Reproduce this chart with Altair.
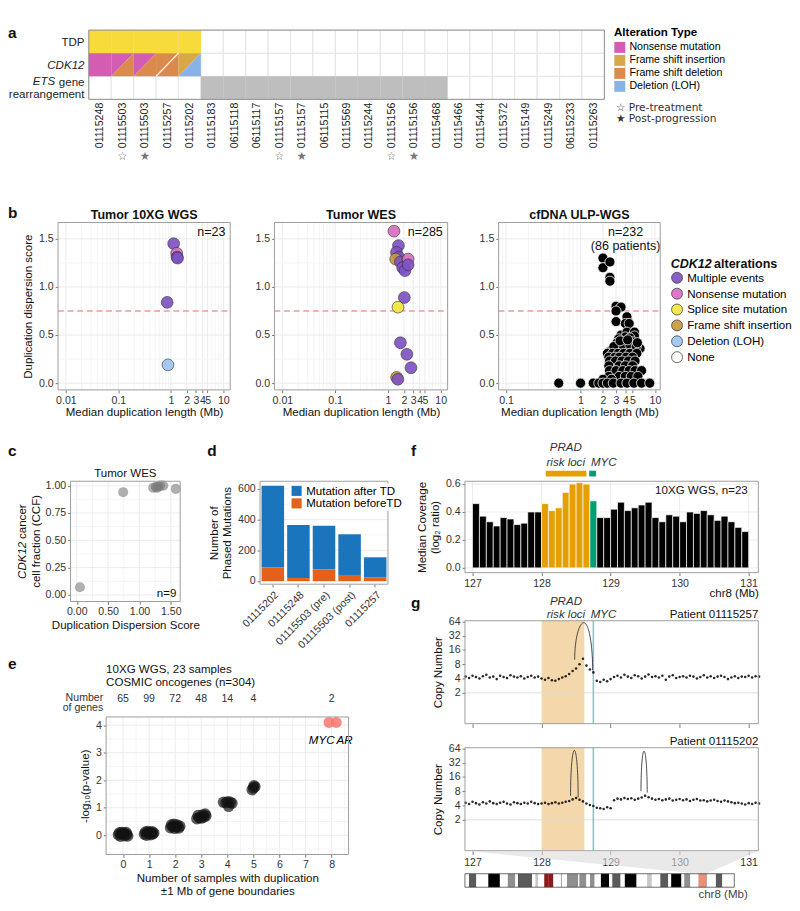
import math
import altair as alt
import pandas as pd

FONT = "Liberation Sans"

# ---------------- panel a data ----------------
a_samples = ["01115248", "01115503", "01115503", "01115257", "01115202", "01115183", "06115118",
             "06115117", "01115157", "01115157", "06115115", "01115569", "01115244", "01115156",
             "01115156", "01115468", "01115466", "01115444", "01115372", "01115149", "01115249",
             "06115233", "01115263"]
a_timepoint = ["", "pre", "post", "", "", "", "", "", "pre", "post", "", "", "", "pre", "post",
               "", "", "", "", "", "", "", ""]
a_tdp = [1, 1, 1, 1, 1] + [0] * 18
a_ets = [0] * 5 + [1] * 11 + [0] * 7
a_cdk12 = [["Nonsense mutation"],
           ["Nonsense mutation", "Frame shift deletion"],
           ["Nonsense mutation", "Frame shift deletion"],
           ["Frame shift deletion", "Frame shift deletion"],
           ["Frame shift insertion", "Deletion (LOH)"]] + [[] for _ in range(18)]
a_types = ["Nonsense mutation", "Frame shift insertion", "Frame shift deletion", "Deletion (LOH)",
           "TDP", "ETS gene rearrangement"]
a_colors = ["#D45DB3", "#D6A84A", "#DC8A4B", "#89B3E6", "#F6DB3A", "#BEBEBE"]

# ---------------- panel b data ----------------
b_types = ["Multiple events", "Nonsense mutation", "Splice site mutation", "Frame shift insertion",
           "Deletion (LOH)", "None"]
b_colors = ["#7F52C4", "#D86EC2", "#F2E640", "#C9983F", "#9FC5EE", "#FFFFFF"]

b1_len = [1.13, 0.85, 1.29, 1.31, 1.34, 0.88]
b1_score = [1.45, 0.84, 1.35, 1.31, 1.30, 0.19]
b1_alt = ["Multiple events", "Multiple events", "Nonsense mutation", "Multiple events",
          "Multiple events", "Deletion (LOH)"]

b2_len = [1.30, 1.58, 1.45, 1.60, 1.40, 1.72, 2.41, 1.90, 2.10, 2.41, 2.04, 1.55, 1.72, 2.28, 2.73, 1.46, 1.54]
b2_score = [1.58, 1.43, 1.36, 1.31, 1.29, 1.26, 1.29, 1.20, 1.17, 1.23, 0.89, 0.79, 0.42, 0.30, 0.16, 0.06, 0.04]
b2_alt = ["Nonsense mutation", "Multiple events", "Multiple events", "Multiple events",
          "Frame shift insertion", "Multiple events", "Nonsense mutation", "Multiple events",
          "Multiple events", "Multiple events", "Multiple events", "Splice site mutation",
          "Multiple events", "Multiple events", "Multiple events", "Frame shift insertion",
          "Multiple events"]

b3_len = [2.0, 2.0, 2.48, 2.48, 2.48, 3.0, 3.5, 3.0, 3.0, 4.2, 4.0, 4.5,
          3.5, 4.2, 5.3, 5.3, 4.0, 4.6, 3.25, 4.0, 5.0, 3.1, 4.0, 3.1, 6.3, 2.5, 3.6, 4.6, 5.6,
          2.8, 3.4, 4.3, 5.8,
          2.3, 2.7, 3.2, 3.8, 4.6, 5.7,
          2.4, 2.9, 3.3, 4.1, 5.0,
          2.45, 2.95, 3.6, 4.4, 5.4,
          2.4, 3.3, 4.0, 5.0,
          2.45, 3.0, 3.7, 4.5, 5.4, 6.6,
          2.4, 3.3, 4.0, 4.8, 5.9,
          2.0, 2.6,
          0.51, 1.0, 1.48, 1.76, 2.0, 2.3, 2.75, 3.5, 4.2, 5.2, 6.6, 8.5]
b3_score = [1.30, 1.20, 1.26, 1.10, 1.06, 0.80, 0.79, 0.75, 0.64, 0.69, 0.62, 0.62,
            0.50, 0.53, 0.53, 0.49, 0.48, 0.47, 0.46, 0.43, 0.43, 0.42, 0.36, 0.36, 0.36, 0.33, 0.39, 0.40, 0.38,
            0.38, 0.44, 0.45, 0.42,
            0.31, 0.31, 0.31, 0.31, 0.31, 0.31,
            0.27, 0.27, 0.27, 0.27, 0.27,
            0.23, 0.23, 0.23, 0.23, 0.23,
            0.18, 0.18, 0.18, 0.18,
            0.13, 0.13, 0.13, 0.13, 0.13, 0.13,
            0.07, 0.07, 0.07, 0.07, 0.07,
            0.04, 0.04,
            0.0, 0.0, 0.0, 0.0, 0.0, 0.0, 0.0, 0.0, 0.0, 0.0, 0.0, 0.0]

# ---------------- panel c data ----------------
c_score = [0.05, 0.74, 1.22, 1.26, 1.30, 1.33, 1.38, 1.28, 1.58]
c_ccf = [0.07, 0.94, 0.98, 0.99, 0.99, 1.00, 1.00, 0.98, 0.97]

# ---------------- panel d data ----------------
d_samples = ["01115202", "01115248", "01115503 (pre)", "01115503 (post)", "01115257"]
d_before = [90, 20, 75, 40, 25]
d_after = [530, 345, 285, 265, 130]

# ---------------- panel e data ----------------
e_x = [-0.18, -0.10, -0.02, 0.06, 0.14, -0.14, -0.05, 0.04, 0.12, 0.18,
       0.82, 0.90, 0.98, 1.06, 1.14, 0.86, 0.95, 1.03, 1.12, 1.18,
       1.82, 1.90, 1.98, 2.06, 2.14, 1.86, 1.96, 2.08, 2.18,
       2.83, 2.92, 3.00, 3.10, 3.18, 2.88, 3.05, 3.15,
       3.85, 3.95, 4.05, 4.12, 4.18, 4.02,
       4.95, 5.02, 5.06, 5.00]
e_y = [0.02, -0.04, 0.05, -0.02, 0.03, 0.09, 0.10, 0.08, 0.10, -0.03,
       0.04, 0.00, 0.06, 0.02, 0.05, 0.12, 0.14, 0.11, 0.13, 0.08,
       0.27, 0.32, 0.25, 0.30, 0.26, 0.38, 0.40, 0.37, 0.33,
       0.60, 0.64, 0.62, 0.66, 0.70, 0.72, 0.74, 0.77,
       1.20, 1.18, 1.05, 1.20, 1.16, 1.22,
       1.65, 1.80, 1.76, 1.72]
e_hit_x = [7.9, 8.18]
e_hit_y = [4.10, 4.10]
e_hit_gene = ["MYC", "AR"]
e_count_x = [0, 1, 2, 3, 4, 5, 8]
e_counts = ["65", "99", "72", "48", "14", "4", "2"]

# ---------------- panel f data ----------------
f_start = [127.0, 127.1, 127.2, 127.3, 127.4, 127.5, 127.6, 127.7, 127.8, 127.9,
           128.0, 128.1, 128.2, 128.3, 128.4, 128.5, 128.6, 128.7,
           128.8, 128.9, 129.0, 129.1, 129.2, 129.3, 129.4, 129.5, 129.6, 129.7, 129.8,
           129.9, 130.0, 130.1, 130.2, 130.3, 130.4, 130.5, 130.6, 130.7, 130.8, 130.9]
f_cov = [0.46, 0.37, 0.33, 0.30, 0.36, 0.35, 0.31, 0.32, 0.40, 0.40,
         0.46, 0.41, 0.43, 0.54, 0.60, 0.61, 0.60, 0.48,
         0.36, 0.36, 0.42, 0.47, 0.41, 0.43, 0.45, 0.47, 0.36, 0.33, 0.38,
         0.37, 0.33, 0.40, 0.39, 0.41, 0.38, 0.34, 0.37, 0.33, 0.29, 0.26]
f_region = ["other"] * 10 + ["PRAD"] * 7 + ["MYC"] + ["other"] * 22

# ---------------- panel g data ----------------
g_pos = [round(126.9 + 0.05 * i, 2) for i in range(86)]
g1_cn = [4.4, 4.1, 4.6, 4.3, 4.0, 4.5, 4.8, 4.2, 4.4, 3.9, 4.6, 4.3, 4.1, 4.7, 4.4, 4.2, 4.5, 4.0, 4.3, 4.6, 4.2, 4.4,
         4.0, 3.8, 4.1, 3.7, 3.6, 3.9, 4.2, 4.5,
         5.0, 5.8, 6.5, 8.0, 10.5,
         7.5, 6.2, 5.4,
         3.6, 3.4, 3.8, 3.5, 3.9,
         4.3, 4.6, 4.2, 4.8, 4.4, 4.1, 4.7, 4.5, 4.0, 4.4, 4.9, 4.3, 4.5, 4.2, 4.6, 3.8, 4.4, 4.7, 4.1, 4.3,
         4.5, 4.2, 4.6, 4.4, 4.0, 4.3, 4.7, 4.2, 4.5, 4.1, 4.4, 4.6, 4.3, 3.9, 4.2, 4.5, 4.1, 4.4, 4.3, 4.6,
         4.2, 4.5, 4.4]
g2_cn = [4.6, 4.3, 4.8, 4.5, 4.2, 4.7, 4.4, 4.9, 4.5, 4.3, 4.6, 4.8, 4.4, 4.2, 4.7, 4.5, 4.3, 4.6, 4.4, 4.8, 4.5, 4.3,
         4.4, 4.6, 4.3, 4.5, 4.7, 4.4, 4.6, 4.8,
         5.0, 5.4, 5.8, 5.3, 4.9,
         4.4, 4.1, 3.9,
         3.6, 3.5, 3.4, 3.7, 3.5,
         5.2, 5.6, 5.4, 5.8, 5.5, 5.7, 5.3, 5.6, 5.9, 6.4, 6.0, 5.6, 5.3, 5.5, 5.2, 5.4, 5.6, 5.1, 5.3, 5.5,
         5.2, 5.4, 5.0, 5.3, 5.5, 5.1, 5.2, 4.9, 5.1, 5.3, 5.0, 4.8, 5.1, 4.9, 4.7, 4.5, 4.6, 4.4, 4.2, 4.5,
         4.3, 4.6, 4.4]
# duplication junction loops: start, end, CN at start, CN at end, loop apex
g1_loops = [(128.48, 128.74, 10.0, 6.0, 60.0)]
g2_loops = [(128.42, 128.53, 6.4, 6.0, 58.0), (129.44, 129.53, 8.0, 7.5, 56.0)]

# chr8 cytobands (Mb)
ideo_start = [0, 2.2, 6.2, 12.7, 19.0, 23.3, 27.4, 28.8, 36.5, 38.3, 39.7, 43.1, 45.6, 48.1, 52.2, 52.6, 55.5,
              61.6, 62.2, 66.0, 68.0, 70.5, 73.9, 78.3, 80.1, 84.6, 86.9, 93.3, 99.0, 101.6, 106.2, 110.5,
              112.1, 117.7, 119.2, 122.5, 127.3, 131.5, 136.4, 139.9]
ideo_end = ideo_start[1:] + [146.4]
ideo_stain = ["gneg", "gpos75", "gneg", "gpos100", "gneg", "gpos50", "gneg", "gpos75", "gneg", "gpos25",
              "gneg", "acen", "acen", "gneg", "gpos75", "gneg", "gpos50", "gneg", "gpos50", "gneg",
              "gpos50", "gneg", "gpos100", "gneg", "gpos75", "gneg", "gpos100", "gneg", "gpos25", "gneg",
              "gpos75", "gneg", "gpos100", "gneg", "gpos50", "gneg", "gpos50", "gneg", "gpos75", "gneg"]

# =====================================================================
# One canvas; every panel is a layer with its own scales whose pixel ranges place it.
W, H = 784, 895


def P(v):
    return v - 8


one = pd.DataFrame({"v": [0]})
GRID = "#EBEBEB"
MINOR = "#F5F5F5"
BORDER = "#9A9A9A"


def txt(x, y, text, **kw):
    kw.setdefault("fontSize", 12)
    kw.setdefault("color", "#111")
    return alt.Chart(one).mark_text(**kw).encode(x=alt.value(P(x)), y=alt.value(P(y)), text=alt.value(text))


def letter(ch, x, y):
    return txt(x, y, ch, fontWeight="bold", fontSize=16, align="left", baseline="top")


def frame(l, t, r, b, color=BORDER):
    return alt.Chart(one).mark_rect(fill="transparent", stroke=color, strokeWidth=1).encode(
        x=alt.value(P(l)), x2=alt.value(P(r)), y=alt.value(P(t)), y2=alt.value(P(b)))


def vgrid(field, values, X, top, bottom, color=GRID):
    return alt.Chart(pd.DataFrame({field: values})).mark_rule(color=color, strokeWidth=1).encode(
        x=X, y=alt.value(P(top)), y2=alt.value(P(bottom)))


def hgrid(field, values, Y, left, right, color=GRID):
    return alt.Chart(pd.DataFrame({field: values})).mark_rule(color=color, strokeWidth=1).encode(
        y=Y, x=alt.value(P(left)), x2=alt.value(P(right)))


def xax(bottom, **kw):
    kw.setdefault("grid", False)
    return alt.Axis(orient="bottom", offset=P(bottom) - H, **kw)


def yax(left, **kw):
    kw.setdefault("grid", False)
    return alt.Axis(orient="left", offset=-P(left), **kw)


panels = []

# ---------------- panel a ----------------
AL, AR, AT, AB = 92, 628, 6, 78
n = len(a_samples)
grid_df = pd.DataFrame([{"x": i, "x2": i + 1, "y": r, "y2": r + 1} for i in range(n) for r in range(3)])
cells, tris, diag = [], [], []
for i in range(n):
    if a_tdp[i]:
        cells.append({"x": i, "x2": i + 1, "y": 2, "y2": 3, "type": "TDP"})
    if a_ets[i]:
        cells.append({"x": i, "x2": i + 1, "y": 0, "y2": 1, "type": "ETS gene rearrangement"})
    ev = a_cdk12[i]
    if len(ev) == 1:
        cells.append({"x": i, "x2": i + 1, "y": 1, "y2": 2, "type": ev[0]})
    elif len(ev) == 2:
        up, lo = ev
        tris += [{"id": f"{i}u", "x": i, "y": 1, "y2": 2, "type": up},
                 {"id": f"{i}u", "x": i + 1, "y": 2, "y2": 2, "type": up},
                 {"id": f"{i}l", "x": i, "y": 1, "y2": 1, "type": lo},
                 {"id": f"{i}l", "x": i + 1, "y": 1, "y2": 2, "type": lo}]
        if up == lo:
            diag.append({"x": i, "x2": i + 1, "y": 1, "y2": 2})
stars_df = pd.DataFrame([{"x": i + 0.5, "y": -2.45, "s": "\u2606" if t == "pre" else "\u2605"}
                         for i, t in enumerate(a_timepoint) if t])
a_label_expr = "[" + ",".join("'%s'" % s for s in a_samples) + "][floor(datum.value)]"
X_a = alt.X("x:Q", scale=alt.Scale(domain=[0, n], range=[P(AL), P(AR)], nice=False, zero=False),
            axis=xax(AB, values=[i + 0.5 for i in range(n)], labelExpr=a_label_expr, labelAngle=-90,
                     ticks=False, domain=False, title=None, labelFontSize=11, labelPadding=3,
                     labelColor="#222"))
Y_a = alt.Y("y:Q", stack=None, scale=alt.Scale(domain=[0, 3], range=[P(AB), P(AT)], nice=False, zero=False),
            axis=yax(AL, values=[0.78, 1.5, 2.5],
                     labelExpr="datum.value < 1 ? ['gene', 'rearrangement'] : (datum.value < 2 ? 'CDK12' : 'TDP')",
                     labelFontStyle={"condition": {"test": "datum.value > 1 && datum.value < 2", "value": "italic"},
                                     "value": "normal"},
                     ticks=False, domain=False, title=None, labelFontSize=12, labelColor="#222",
                     labelLineHeight=13, labelPadding=5))
a_color = alt.Color("type:N", scale=alt.Scale(domain=a_types, range=a_colors),
                    legend=alt.Legend(title="Alteration Type", values=a_types[:4], symbolType="square",
                                      symbolSize=130, titleFontSize=12, labelFontSize=11, orient="none",
                                      legendX=P(638), legendY=P(3), symbolStrokeWidth=0, rowPadding=1.5,
                                      titlePadding=3))
panel_a = alt.layer(
    alt.Chart(grid_df).mark_rect(fill="white", stroke="#E4E4E4", strokeWidth=1).encode(
        x=X_a, x2="x2", y=Y_a, y2="y2"),
    alt.Chart(pd.DataFrame(cells)).mark_rect().encode(x=X_a, x2="x2", y=Y_a, y2="y2", color=a_color),
    alt.Chart(pd.DataFrame(tris)).mark_area(orient="vertical").encode(
        x=X_a, y=Y_a, y2="y2", color=a_color, detail="id:N"),
    alt.Chart(pd.DataFrame(diag)).mark_rule(color="white", strokeWidth=1.2).encode(x=X_a, x2="x2", y=Y_a, y2="y2"),
    alt.Chart(stars_df).mark_text(font="DejaVu Sans", fontSize=12, color="#777").encode(x=X_a, y=Y_a, text="s:N"),
    frame(AL, AT, AR, AB, "#8C8C8C"),
    txt(57, 59.3, "ETS", fontStyle="italic", align="right", baseline="middle", color="#222"),
    txt(640, 87, "\u2606 Pre-treatment", align="left", fontSize=11, font="DejaVu Sans", color="#333"),
    txt(640, 99, "\u2605 Post-progression", align="left", fontSize=11, font="DejaVu Sans", color="#333"),
    letter("a", 8, 1),
)
panels.append(panel_a)

# ---------------- panel b ----------------
BT, BB = 206, 380


def b_panel(L, R, lens, scores, alts, title, dom, vals, ntext, ytitle, black=False):
    df = pd.DataFrame({"len": lens, "score": scores, "alt": alts})
    X = alt.X("len:Q", scale=alt.Scale(type="log", domain=dom, range=[P(L), P(R)], nice=False),
              axis=xax(BB, values=vals, format="~g", labelOverlap=False,
                       title="Median duplication length (Mb)", titlePadding=2))
    Y = alt.Y("score:Q", scale=alt.Scale(domain=[-0.07, 1.67], range=[P(BB), P(BT)], nice=False, zero=False),
              axis=yax(L, values=[0, 0.5, 1.0, 1.5], format=".1f",
                       title="Duplication dispersion score" if ytitle else None))
    minor = [v for v in [0.02, 0.03, 0.04, 0.05, 0.06, 0.07, 0.08, 0.09, 0.2, 0.3, 0.4, 0.5, 0.6, 0.7,
                         0.8, 0.9, 6, 7, 8, 9] if dom[0] < v < dom[1]]
    major = [v for v in [0.01, 0.1, 1, 2, 3, 4, 5, 10] if dom[0] < v < dom[1]]
    layers = [vgrid("len", minor, X, BT, BB, MINOR), vgrid("len", major, X, BT, BB),
              hgrid("score", [0.25, 0.75, 1.25], Y, L, R, MINOR), hgrid("score", [0, 0.5, 1.0, 1.5], Y, L, R),
              alt.Chart(pd.DataFrame({"score": [0.75]})).mark_rule(
                  color="#F29A9A", strokeDash=[6, 4], strokeWidth=1.4).encode(
                  y=Y, x=alt.value(P(L)), x2=alt.value(P(R)))]
    if black:
        leg = alt.Legend(title=None, orient="none", legendX=P(697), legendY=P(257),
                         symbolType="circle", symbolSize=130, symbolStrokeColor="#333",
                         symbolStrokeWidth=0.8, labelFontSize=12, rowPadding=1.5)
        layers.append(alt.Chart(df).transform_filter("false").mark_circle(
            size=150, opacity=0.92, stroke="#333", strokeWidth=0.7).encode(
            x=X, y=Y, color=alt.Color("alt:N", scale=alt.Scale(domain=b_types, range=b_colors), legend=leg)))
        layers.append(alt.Chart(df).mark_circle(size=110, color="black", opacity=1, stroke="white",
                                                strokeWidth=0.8).encode(x=X, y=Y))
        layers.append(txt(R - 36, 210, ntext, align="center", baseline="top", fontSize=13, lineHeight=15))
        layers.append(txt(697, 249, "CDK12", fontStyle="italic", fontWeight="bold", fontSize=13,
                          align="left", baseline="middle"))
        layers.append(txt(742, 249, "alterations", fontWeight="bold", fontSize=13,
                          align="left", baseline="middle"))
    else:
        layers.append(alt.Chart(df).mark_circle(size=150, opacity=0.92, stroke="#333", strokeWidth=0.7).encode(
            x=X, y=Y, color=alt.Color("alt:N", scale=alt.Scale(domain=b_types, range=b_colors), legend=None)))
        layers.append(txt(R - 5, 210, ntext, align="right", baseline="top", fontSize=13))
    layers.append(frame(L, BT, R, BB))
    layers.append(txt((L + R) / 2, 198, title, fontWeight="bold", fontSize=13, baseline="middle"))
    return alt.layer(*layers)


panels.append(b_panel(60, 239, b1_len, b1_score, b1_alt, "Tumor 10XG WGS", [10 ** -2.15, 10 ** 1.13],
                      [0.01, 0.1, 1, 2, 3, 4, 5, 10], "n=23", True))
panels.append(b_panel(285, 465, b2_len, b2_score, b2_alt, "Tumor WES", [10 ** -2.15, 10 ** 1.13],
                      [0.01, 0.1, 1, 2, 3, 4, 5, 10], "n=285", False))
panels.append(b_panel(518, 686, b3_len, b3_score, ["None"] * len(b3_len), "cfDNA ULP-WGS",
                      [10 ** -1.1, 10 ** 1.07], [0.1, 1, 2, 3, 4, 5, 10], ["n=232", "(86 patients)"],
                      False, black=True))
panels.append(letter("b", 8, 188))

# ---------------- panel c ----------------
CL, CR, CT, CB = 73, 187, 475, 600
Xc = alt.X("dds:Q", scale=alt.Scale(domain=[-0.1, 1.65], range=[P(CL), P(CR)], nice=False, zero=False),
           axis=xax(CB, values=[0, 0.5, 1.0, 1.5], format=".2f", title="Duplication Dispersion Score",
                    titlePadding=3))
Yc = alt.Y("ccf:Q", scale=alt.Scale(domain=[-0.06, 1.04], range=[P(CB), P(CT)], nice=False, zero=False),
           axis=yax(CL, values=[0, 0.25, 0.5, 0.75, 1.0], format=".2f", title=None))
cmid = (CT + CB) / 2
panels.append(alt.layer(
    vgrid("dds", [0.25, 0.75, 1.25], Xc, CT, CB, MINOR), vgrid("dds", [0, 0.5, 1.0, 1.5], Xc, CT, CB),
    hgrid("ccf", [0.125, 0.375, 0.625, 0.875], Yc, CL, CR, MINOR),
    hgrid("ccf", [0, 0.25, 0.5, 0.75, 1.0], Yc, CL, CR),
    alt.Chart(pd.DataFrame({"dds": c_score, "ccf": c_ccf})).mark_circle(
        size=110, color="#7A7A7A", opacity=0.6).encode(x=Xc, y=Yc),
    frame(CL, CT, CR, CB),
    txt(183, 591, "n=9", align="right", baseline="middle"),
    txt(130, 467, "Tumor WES", baseline="middle"),
    txt(23, cmid + 39, "CDK12", fontStyle="italic", angle=270, align="left", baseline="middle"),
    txt(23, cmid + 39 - 41.5, "cancer", angle=270, align="left", baseline="middle"),
    txt(37, cmid, "cell fraction (CCF)", angle=270, align="center", baseline="middle"),
    letter("c", 8, 436),
))

# ---------------- panel d ----------------
DL, DR, DT, DB = 270, 403, 475, 582
d_rows = []
for s, b, a in zip(d_samples, d_before, d_after):
    d_rows.append({"sample": s, "kind": "Mutation beforeTD", "n": b, "o": 0})
    d_rows.append({"sample": s, "kind": "Mutation after TD", "n": a, "o": 1})
Xd = alt.X("sample:N", sort=d_samples,
           scale=alt.Scale(range=[P(DL), P(DR)], paddingInner=0.12, paddingOuter=0.06),
           axis=xax(DB, labelAngle=-45, title=None, labelFontSize=11))
d_yscale = alt.Scale(domain=[-20, 650], range=[P(DB), P(DT)], nice=False, zero=False)
d_yaxis = yax(DL, values=[0, 200, 400, 600], title=["Number of", "Phased Mutations"])
Yd = alt.Y("n:Q", stack="zero", scale=d_yscale, axis=d_yaxis)
Yd_grid = alt.Y("n:Q", stack=None, scale=d_yscale, axis=d_yaxis)
panels.append(alt.layer(
    hgrid("n", [100, 300, 500], Yd_grid, DL, DR, MINOR), hgrid("n", [0, 200, 400, 600], Yd_grid, DL, DR),
    alt.Chart(pd.DataFrame(d_rows)).mark_bar().encode(
        x=Xd, y=Yd,
        color=alt.Color("kind:N", scale=alt.Scale(domain=["Mutation after TD", "Mutation beforeTD"],
                                                  range=["#1B75BC", "#E5601B"]),
                        legend=alt.Legend(title=None, orient="none", legendX=P(300), legendY=P(477),
                                          symbolType="square", symbolSize=110, labelFontSize=12,
                                          padding=2, fillColor="white", rowPadding=1)),
        order=alt.Order("o:Q")),
    frame(DL, DT, DR, DB),
    letter("d", 215, 436),
))

# ---------------- panel e ----------------
EL, ER, ET, EB = 110, 362, 720, 863
Xe = alt.X("x:Q", scale=alt.Scale(domain=[-0.65, 8.65], range=[P(EL), P(ER)], nice=False, zero=False),
           axis=xax(EB, values=list(range(9)), format="d",
                    title=["Number of samples with duplication", "\u00b11 Mb of gene boundaries"],
                    titlePadding=3))
Ye = alt.Y("y:Q", scale=alt.Scale(domain=[-0.7, 4.3], range=[P(EB), P(ET)], nice=False, zero=False),
           axis=yax(EL, values=[0, 1, 2, 3, 4], format="d", title="-log\u2081\u2080(p-value)"))
panels.append(alt.layer(
    vgrid("x", [v + 0.5 for v in range(-1, 9)], Xe, ET, EB, MINOR), vgrid("x", list(range(9)), Xe, ET, EB),
    hgrid("y", [-0.5, 0.5, 1.5, 2.5, 3.5], Ye, EL, ER, MINOR), hgrid("y", [0, 1, 2, 3, 4], Ye, EL, ER),
    alt.Chart(pd.DataFrame({"x": e_x, "y": e_y})).mark_circle(size=140, color="#111", opacity=0.68).encode(
        x=Xe, y=Ye),
    alt.Chart(pd.DataFrame({"x": e_hit_x, "y": e_hit_y})).mark_circle(
        size=130, color="#F8766D", opacity=0.85).encode(x=Xe, y=Ye),
    alt.Chart(pd.DataFrame({"x": [7.62, 8.5], "y": [3.45, 3.45], "g": e_hit_gene})).mark_text(
        fontStyle="italic", fontSize=12).encode(x=Xe, y=Ye, text="g:N"),
    alt.Chart(pd.DataFrame({"x": e_count_x, "t": e_counts})).mark_text(fontSize=11, color="#333").encode(
        x=Xe, y=alt.value(P(701)), text="t:N"),
    frame(EL, ET, ER, EB),
    txt(107, 700, ["Number", "of genes"], align="right", baseline="middle", fontSize=11, lineHeight=11,
        color="#333"),
    txt(110, 670, "10XG WGS, 23 samples", align="left", baseline="middle"),
    txt(110, 684, "COSMIC oncogenes (n=304)", align="left", baseline="middle"),
    letter("e", 8, 657),
))

# ---------------- panel f ----------------
FL, FR, FT, FB = 483, 788, 475, 570
f_colors = alt.Scale(domain=["other", "PRAD", "MYC"], range=["#000000", "#E69F00", "#009E73"])
Xf = alt.X("start:Q", scale=alt.Scale(domain=[126.89, 131.14], range=[P(FL), P(FR)], nice=False, zero=False),
           axis=xax(FB, values=[127, 128, 129, 130, 131], format="d", title="chr8 (Mb)", titleAnchor="end",
                    titleAlign="right", titlePadding=0, titleFontSize=12))
Yf = alt.Y("cov:Q", scale=alt.Scale(domain=[-0.034, 0.62], range=[P(FB), P(FT)], nice=False, zero=False),
           axis=yax(FL, values=[0, 0.2, 0.4, 0.6], format=".1f", title=["Median Coverage", "(log\u2082 ratio)"]))
panels.append(alt.layer(
    vgrid("start", [127, 128, 129, 130, 131], Xf, FT, FB), hgrid("cov", [0, 0.2, 0.4, 0.6], Yf, FL, FR),
    alt.Chart(pd.DataFrame({"start": f_start, "end": [round(s + 0.1, 1) for s in f_start], "cov": f_cov,
                            "region": f_region})).mark_rect(stroke="white", strokeWidth=0.7).encode(
        x=Xf, x2="end", y=Yf, y2=alt.datum(0), color=alt.Color("region:N", scale=f_colors, legend=None)),
    alt.Chart(pd.DataFrame({"start": [128.06, 128.69], "end": [128.65, 128.79], "region": ["PRAD", "MYC"]})).mark_rect().encode(
        x=Xf, x2="end", y=alt.value(P(464)), y2=alt.value(P(470)),
        color=alt.Color("region:N", scale=f_colors, legend=None)),
    alt.Chart(pd.DataFrame({"start": [128.35, 128.35, 128.9], "t": ["PRAD", "risk loci", "MYC"],
                            "yy": [P(440), P(455), P(455)]})).mark_text(
        fontStyle="italic", fontSize=12, color="#333", baseline="middle").encode(
        x=Xf, y=alt.Y("yy:Q", scale=None), text="t:N"),
    frame(FL, FT, FR, FB),
    txt(777, 484, "10XG WGS, n=23", align="right", baseline="middle"),
    letter("f", 427, 436),
))


# ---------------- panel g ----------------
def loop_rows(loops):
    rows = []
    for k, (s, e, ys, ye, peak) in enumerate(loops):
        for j in range(41):
            t = math.pi * j / 40
            x = s + (e - s) * (1 - math.cos(t)) / 2
            base = math.log2(ys) + (math.log2(ye) - math.log2(ys)) * (1 - math.cos(t)) / 2
            y = base + (math.log2(peak) - base) * math.sin(t)
            rows.append({"pos": x, "cn": 2 ** y, "loop": k, "o": j})
    return pd.DataFrame(rows)


def g_panel(GT, GB, cn, loops, title, show_labels):
    Xg = alt.X("pos:Q", scale=alt.Scale(domain=[126.89, 131.14], range=[P(FL), P(FR)], nice=False, zero=False),
               axis=xax(GB, values=[127, 128, 129, 130, 131], format="d", title=None, labels=show_labels,
                        tickSize=4))
    Yg = alt.Y("cn:Q", scale=alt.Scale(type="log", base=2, domain=[0.45, 66], range=[P(GB), P(GT)], nice=False),
               axis=yax(FL, values=[2, 4, 8, 16, 32, 64], format="d", title="Copy Number"))
    return alt.layer(
        alt.Chart(pd.DataFrame({"pos": [128.0], "end": [128.62]})).mark_rect(color="#F3D3A2", opacity=0.9).encode(
            x=Xg, x2="end", y=alt.value(P(GT)), y2=alt.value(P(GB))),
        hgrid("cn", [2], Yg, FL, FR, "#DDDDDD"),
        alt.Chart(pd.DataFrame({"pos": [128.75]})).mark_rule(color="#7CCBC3", strokeWidth=1.6).encode(
            x=Xg, y=alt.value(P(GT)), y2=alt.value(P(GB))),
        alt.Chart(pd.DataFrame({"pos": g_pos, "cn": cn})).mark_circle(size=7, color="#111", opacity=0.9).encode(
            x=Xg, y=Yg),
        alt.Chart(loop_rows(loops)).mark_line(color="#333", strokeWidth=0.9).encode(
            x=Xg, y=Yg, detail="loop:N", order="o:Q"),
        frame(FL, GT, FR, GB),
        txt(FR, GT - 7, title, align="right", baseline="middle"),
    )


panels.append(g_panel(620, 727, g1_cn, g1_loops, "Patient 01115257", False))
panels.append(g_panel(752, 859, g2_cn, g2_loops, "Patient 01115202", True))
panels.append(alt.layer(
    txt(588, 600, "PRAD", fontStyle="italic", baseline="middle", color="#333"),
    txt(588, 613, "risk loci", fontStyle="italic", baseline="middle", color="#333"),
    txt(627, 613, "MYC", fontStyle="italic", baseline="middle", color="#333"),
    letter("g", 427, 594),
))

# ---------------- ideogram ----------------
IL, IR, IT, IB = 483, 763, 883, 897
ideo_df = pd.DataFrame({"start": ideo_start, "end": ideo_end, "stain": ideo_stain, "yy": 0, "yy2": 1})
Xi = alt.X("start:Q", scale=alt.Scale(domain=[0, 146.4], range=[P(IL), P(IR)], nice=False, zero=False), axis=None)
Yi = alt.Y("yy:Q", scale=alt.Scale(domain=[0, 1], range=[P(IB), P(IT)], nice=False, zero=False), axis=None)
top_y = 1 + (IT - 859) / (IB - IT)
right_x = (FR - IL) / (IR - IL) * 146.4
panels.append(alt.layer(
    alt.Chart(pd.DataFrame({"yy": [1, top_y], "start": [126.9, 0], "end": [131.2, right_x]})).mark_area(
        orient="horizontal", color="#DADADA", opacity=0.6).encode(y=Yi, x=Xi, x2="end"),
    alt.Chart(ideo_df).mark_rect().encode(
        x=Xi, x2="end", y=Yi, y2="yy2",
        color=alt.Color("stain:N", scale=alt.Scale(domain=["gneg", "gpos25", "gpos50", "gpos75", "gpos100", "acen"],
                                                   range=["#FFFFFF", "#C8C8C8", "#8F8F8F", "#5A5A5A", "#000000",
                                                          "#8B1A1A"]), legend=None)),
    alt.Chart(pd.DataFrame({"start": [126.9], "end": [131.2], "yy": [0], "yy2": [1]})).mark_rect(
        color="#E8907A").encode(x=Xi, x2="end", y=Yi, y2="yy2"),
    alt.Chart(pd.DataFrame({"start": [0], "end": [146.4], "yy": [0], "yy2": [1]})).mark_rect(
        fill="transparent", stroke="#444", strokeWidth=0.8).encode(x=Xi, x2="end", y=Yi, y2="yy2"),
    txt(777, 904, "chr8 (Mb)", align="right", baseline="middle", color="#444"),
))

# ---------------- assemble ----------------
chart = alt.layer(*panels).resolve_scale(
    x="independent", y="independent", color="independent"
).resolve_axis(x="independent", y="independent").resolve_legend(color="independent").properties(
    width=W, height=H
).configure(font=FONT, padding=0).configure_view(strokeOpacity=0).configure_axis(
    labelFont=FONT, titleFont=FONT, labelFontSize=11, titleFontSize=12, titleFontWeight="normal",
    labelColor="#333", titleColor="#111", domain=False, tickColor="#777", tickSize=3, labelFlush=False,
    labelPadding=2
).configure_legend(labelFont=FONT, titleFont=FONT).configure_text(font=FONT)

chart.save("out.html", embed_options={"renderer": "svg", "actions": False})
